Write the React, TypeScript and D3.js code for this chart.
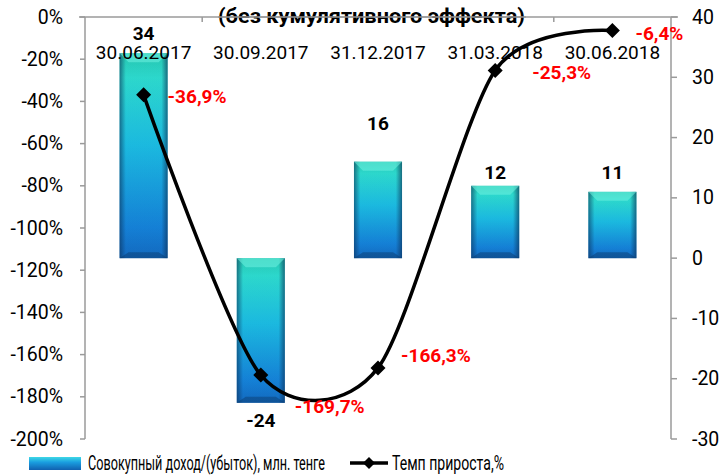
import * as d3 from "d3";

const categories = ["30.06.2017", "30.09.2017", "31.12.2017", "31.03.2018", "30.06.2018"];
const income = [34, -24, 16, 12, 11];
const growth = [-36.9, -169.7, -166.3, -25.3, -6.4];
const growthLabels = ["-36,9%", "-169,7%", "-166,3%", "-25,3%", "-6,4%"];
const leftTicks = [0, -20, -40, -60, -80, -100, -120, -140, -160, -180, -200];
const rightTicks = [40, 30, 20, 10, 0, -10, -20, -30];

// hand-placed label nudges, as in the original
const incomeLabelDy = [-20, 18, -38, -13, -19];
const growthLabelDx = [24, 34, 23, 37, 23];
const growthLabelDy = [2, 31, -12, 2, 3];

const W = 723;
const H = 475;
const m = { left: 85, right: 671, top: 17, bottom: 439 };
const FONT = "Roboto, 'Liberation Sans', sans-serif";
const AXIS = "#9a9a9a";

const App = () => {
  const x = d3.scaleBand<string>().domain(categories).range([m.left, m.right]);
  const yLeft = d3.scaleLinear().domain([-200, 0]).range([m.bottom, m.top]);
  const yRight = d3.scaleLinear().domain([-30, 40]).range([m.bottom, m.top]);
  const barW = x.bandwidth() * 0.41;
  const cx = (c: string) => (x(c) ?? 0) + x.bandwidth() / 2;

  const line = d3
    .line<number>()
    .x((_, i) => cx(categories[i]))
    .y((d) => yLeft(d))
    .curve(d3.curveCardinal.tension(0.2));

  const diamond = (px: number, py: number, r = 7.5) =>
    `M${px},${py - r}L${px + r},${py}L${px},${py + r}L${px - r},${py}Z`;

  return (
    <svg
      width={W}
      height={H}
      viewBox={`0 0 ${W} ${H}`}
      style={{ position: "absolute", left: 0, top: 0, background: "#fff" }}
      fontFamily={FONT}
    >
      <defs>
        <linearGradient id="barV" x1="0" y1="0" x2="0" y2="1">
          <stop offset="0%" stopColor="#27cdb4" />
          <stop offset="12%" stopColor="#2ee0d2" />
          <stop offset="45%" stopColor="#1cc0e6" />
          <stop offset="85%" stopColor="#1584dc" />
          <stop offset="100%" stopColor="#136cc4" />
        </linearGradient>
        <linearGradient id="barH" x1="0" y1="0" x2="1" y2="0">
          <stop offset="0%" stopColor="#0b2f55" stopOpacity={0.6} />
          <stop offset="13%" stopColor="#0b2f55" stopOpacity={0.05} />
          <stop offset="87%" stopColor="#0b2f55" stopOpacity={0.05} />
          <stop offset="100%" stopColor="#0b2f55" stopOpacity={0.65} />
        </linearGradient>
        <linearGradient id="legendBar" x1="0" y1="0" x2="0" y2="1">
          <stop offset="0%" stopColor="#3fd9e6" />
          <stop offset="40%" stopColor="#1a9ee0" />
          <stop offset="100%" stopColor="#1060b0" />
        </linearGradient>
      </defs>

      {/* bars (right axis) */}
      {income.map((v, i) => {
        const c = categories[i];
        const x0 = cx(c) - barW / 2;
        const yTop = yRight(Math.max(v, 0));
        const h = Math.abs(yRight(v) - yRight(0));
        const bev = 9;
        return (
          <g key={c}>
            <rect x={x0} y={yTop} width={barW} height={h} fill="url(#barV)" />
            <rect x={x0} y={yTop} width={barW} height={h} fill="url(#barH)" />
            <path
              d={`M${x0},${yTop}L${x0 + barW},${yTop}L${x0 + barW - bev},${yTop + bev}L${x0 + bev},${yTop + bev}Z`}
              fill="#6ff2e2"
              opacity={0.55}
            />
            <path
              d={`M${x0},${yTop + h}L${x0 + barW},${yTop + h}L${x0 + barW - bev},${yTop + h - 6}L${x0 + bev},${yTop + h - 6}Z`}
              fill="#0b3a6a"
              opacity={0.45}
            />
          </g>
        );
      })}

      {/* axes */}
      <g stroke={AXIS} strokeWidth={1.5} fill="none">
        <line x1={m.left - 6} x2={m.right + 7} y1={m.top} y2={m.top} />
        <line x1={m.left} x2={m.left} y1={m.top} y2={m.bottom} />
        <line x1={m.right} x2={m.right} y1={m.top} y2={m.bottom} />
        {leftTicks.map((t) => (
          <line key={t} x1={m.left - 5} x2={m.left} y1={yLeft(t)} y2={yLeft(t)} />
        ))}
        {rightTicks.map((t) => (
          <line key={t} x1={m.right} x2={m.right + 6} y1={yRight(t)} y2={yRight(t)} />
        ))}
        {categories.slice(1).map((c) => (
          <line key={c} x1={x(c)} x2={x(c)} y1={m.top} y2={m.top + 5} />
        ))}
      </g>

      <g fontSize={19.5} fill="#000">
        {leftTicks.map((t) => (
          <text key={t} x={63} y={yLeft(t)} textAnchor="end" dominantBaseline="central">
            {`${t}%`}
          </text>
        ))}
        {rightTicks.map((t) => (
          <text key={t} x={692} y={yRight(t)} dominantBaseline="central">
            {t}
          </text>
        ))}
      </g>
      <g fontSize={19} fill="#000">
        {categories.map((c) => (
          <text key={c} x={cx(c)} y={52} textAnchor="middle" dominantBaseline="central">
            {c}
          </text>
        ))}
      </g>

      {/* growth line (left axis) */}
      <path d={line(growth) ?? undefined} fill="none" stroke="#000" strokeWidth={3.5} />
      {growth.map((v, i) => (
        <path key={i} d={diamond(cx(categories[i]), yLeft(v))} fill="#000" />
      ))}

      {/* title */}
      <text
        x={218}
        y={16}
        dominantBaseline="central"
        fontSize={21}
        fontWeight="bold"
        textLength={307}
        lengthAdjust="spacingAndGlyphs"
      >
        (без кумулятивного эффекта)
      </text>
      <line x1={218} x2={526} y1={m.top} y2={m.top} stroke={AXIS} strokeWidth={1.5} />

      {/* value labels */}
      <g fontSize={19} fontWeight="bold">
        {income.map((v, i) => (
          <text
            key={i}
            x={cx(categories[i])}
            y={yRight(v) + incomeLabelDy[i]}
            textAnchor="middle"
            dominantBaseline="central"
            fill="#000"
          >
            {v}
          </text>
        ))}
        {growth.map((v, i) => (
          <text
            key={i}
            x={cx(categories[i]) + growthLabelDx[i]}
            y={yLeft(v) + growthLabelDy[i]}
            dominantBaseline="central"
            fill="#ff0000"
          >
            {growthLabels[i]}
          </text>
        ))}
      </g>

      {/* legend */}
      <g fontSize={20}>
        <rect x={29} y={457} width={52} height={13} fill="url(#legendBar)" />
        <text x={88} y={463} dominantBaseline="central" textLength={237} lengthAdjust="spacingAndGlyphs">
          Совокупный доход/(убыток), млн. тенге
        </text>
        <line x1={350} x2={388} y1={463} y2={463} stroke="#000" strokeWidth={3.5} />
        <path d={diamond(369, 463, 6)} fill="#000" />
        <text x={392} y={463} dominantBaseline="central" textLength={112} lengthAdjust="spacingAndGlyphs">
          Темп прироста,%
        </text>
      </g>
    </svg>
  );
};

export default App;
